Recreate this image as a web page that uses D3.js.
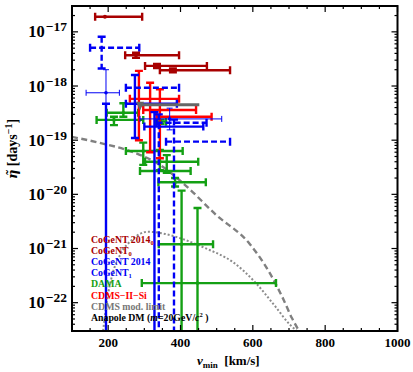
<!DOCTYPE html>
<html><head><meta charset="utf-8">
<script src="https://cdn.jsdelivr.net/npm/d3@7"></script>
<style>html,body{margin:0;padding:0;background:#fff;}svg{display:block;}</style>
</head><body>
<svg id="chart" width="413" height="372"></svg>
<script>
// ---------- data ----------
// each point: v (centre), vLo, vHi in km/s; eta, etaLo, etaHi in days^-1 (null = down to zero)
const cogent2014_0 = [
  {v:191, vLo:164, vHi:294, eta:1.9e-17, etaLo:1.9e-17, etaHi:1.9e-17},
  {v:277, vLo:247, vHi:396, eta:3.7e-18, etaLo:3.3e-18, etaHi:4.1e-18}
];
const cogent_0 = [
  {v:335, vLo:302, vHi:473, eta:2.35e-18, etaLo:2.15e-18, etaHi:2.55e-18},
  {v:379, vLo:343, vHi:537, eta:1.95e-18, etaLo:1.8e-18, etaHi:2.1e-18}
];
const cogent2014 = [
  {v:194, vLo:194, vHi:194, eta:4.7e-19, etaLo:null, etaHi:4.7e-19},
  {v:274, vLo:249, vHi:390, eta:4.7e-19, etaLo:1.1e-19, etaHi:1.6e-18},
  {v:328, vLo:300, vHi:463, eta:1.78e-19, etaLo:null, etaHi:3.3e-19}
];
const cogent2014_thin = [
  {v:194, vLo:139, vHi:231, eta:7.5e-19, etaLo:4.7e-19, etaHi:2.0e-18},
  {v:370, vLo:288, vHi:514, eta:2.47e-19, etaLo:1.55e-19, etaHi:3.9e-19}
];
const cogent_1 = [
  {v:182, vLo:150, vHi:286, eta:5.1e-18, etaLo:2.1e-18, etaHi:8.1e-18},
  {v:277, vLo:249, vHi:396, eta:9.3e-19, etaLo:9.3e-19, etaHi:9.3e-19},
  {v:340, vLo:334, vHi:472, eta:2.1e-19, etaLo:null, etaHi:3.0e-19},
  {v:382, vLo:360, vHi:537, eta:9.4e-20, etaLo:null, etaHi:2.4e-19}
];
const dama = [
  {v:242, vLo:196, vHi:283, eta:3.2e-19, etaLo:2.7e-19, etaHi:4.8e-19},
  {v:216, vLo:168, vHi:297, eta:2.37e-19, etaLo:1.9e-19, etaHi:2.7e-19},
  {v:345, vLo:330, vHi:360, eta:2.2e-19, etaLo:2.0e-19, etaHi:2.4e-19},
  {v:297, vLo:249, vHi:406, eta:6.3e-20, etaLo:3.5e-20, etaHi:9.0e-20},
  {v:343, vLo:302, vHi:449, eta:4.0e-20, etaLo:2.8e-20, etaHi:6.6e-20},
  {v:362, vLo:288, vHi:428, eta:2.7e-20, etaLo:2.5e-20, etaHi:5.3e-20},
  {v:385, vLo:339, vHi:470, eta:1.67e-20, etaLo:1.4e-20, etaHi:2.0e-20},
  {v:403, vLo:340, vHi:490, eta:1.2e-21, etaLo:null, etaHi:1.17e-20},
  {v:447, vLo:293, vHi:664, eta:2.3e-22, etaLo:null, etaHi:5.6e-21}
];
const cdmsSi = [
  {v:285, vLo:260, vHi:396, eta:5.8e-19, etaLo:1.0e-19, etaHi:1.9e-18},
  {v:316, vLo:297, vHi:443, eta:3.6e-19, etaLo:6.0e-20, etaHi:1.15e-18},
  {v:343, vLo:334, vHi:486, eta:2.7e-19, etaLo:4.65e-20, etaHi:8.7e-19}
];
const cdmsModLimit = [ {v:288, vLo:288, vHi:452, eta:4.5e-19} ];

const dashedCurveV   = [100, 177, 260, 343, 412, 498, 592, 647, 686, 708, 728];
const dashedCurveEta = [1.15e-19, 8.9e-20, 6.3e-20, 3.5e-20, 1.5e-20, 4.2e-21, 1.2e-21, 3.5e-22, 1.1e-22, 5.2e-23, 3.0e-23];
const dottedCurveV   = [186, 197, 211, 233, 266, 310, 357, 412, 468, 545, 606, 661, 703, 722];
const dottedCurveEta = [3.0e-23, 1.12e-22, 3.2e-22, 7.6e-22, 1.45e-21, 2.04e-21, 1.86e-21, 1.45e-21, 1.02e-21, 5.6e-22, 2.4e-22, 8.7e-23, 3.9e-23, 3.0e-23];

const xTickValues = [200, 400, 600, 800, 1000];
const yTickExponents = [-17, -18, -19, -20, -21, -22];

// ---------- layout ----------
const L = 72, R = 397.5, T = 6, B = 331;
const svg = d3.select("#chart");
const x = d3.scaleLinear().domain([100, 1000]).range([L, R]);
const y = d3.scaleLog().domain([3e-23, 3e-17]).range([B, T]);
const serif = "'Liberation Serif','Times New Roman',serif";

const COL = {darkred:"#a80000", blue:"#0000f5", red:"#ff0000", green:"#14a014", gray:"#666666"};

svg.append("defs").append("clipPath").attr("id","clip")
  .append("rect").attr("x",L).attr("y",T).attr("width",R-L).attr("height",B-T);
const plot = svg.append("g").attr("clip-path","url(#clip)");

// curves
const line = d3.line().x(d=>x(d[0])).y(d=>y(d[1])).curve(d3.curveMonotoneX);
plot.append("path").datum(dashedCurveV.map((v,i)=>[v,dashedCurveEta[i]]))
  .attr("d",line).attr("fill","none").attr("stroke","#808080").attr("stroke-width",2.4)
  .attr("stroke-dasharray","6,3.5");
plot.append("path").datum(dottedCurveV.map((v,i)=>[v,dottedCurveEta[i]]))
  .attr("d",line).attr("fill","none").attr("stroke","#8c8c8c").attr("stroke-width",2)
  .attr("stroke-dasharray","2,2");

function drawSeries(data, color, opt) {
  opt = Object.assign({w:2.4, cap:4, dash:null, dot:0}, opt||{});
  const g = plot.append("g").attr("stroke", color).attr("stroke-width", opt.w).attr("fill","none");
  data.forEach(p => {
    const cy = y(p.eta), cx = x(p.v);
    const yHi = y(p.etaHi), yLo = p.etaLo === null ? B + 5 : y(p.etaLo);
    if (p.vHi > p.vLo) {
      g.append("line").attr("x1",x(p.vLo)).attr("x2",x(p.vHi)).attr("y1",cy).attr("y2",cy)
        .attr("stroke-dasharray", opt.dash);
      [p.vLo, p.vHi].forEach(vv => g.append("line").attr("x1",x(vv)).attr("x2",x(vv))
        .attr("y1",cy-opt.cap).attr("y2",cy+opt.cap));
    }
    if (yLo - yHi > 0.5) {
      g.append("line").attr("x1",cx).attr("x2",cx).attr("y1",yHi).attr("y2",yLo)
        .attr("stroke-dasharray", opt.dash);
      g.append("line").attr("x1",cx-opt.cap).attr("x2",cx+opt.cap).attr("y1",yHi).attr("y2",yHi);
      if (p.etaLo !== null)
        g.append("line").attr("x1",cx-opt.cap).attr("x2",cx+opt.cap).attr("y1",yLo).attr("y2",yLo);
    }
    if (opt.dot) plot.append("circle").attr("cx",cx).attr("cy",cy).attr("r",opt.dot).attr("fill",color);
  });
}

drawSeries(dama, COL.green, {dot:1.8});
drawSeries(cdmsSi, COL.red, {});
drawSeries(cogent2014_thin, COL.blue, {w:1, cap:3, dot:1.8});
drawSeries(cogent2014, COL.blue, {});
drawSeries(cogent_1, COL.blue, {dash:"6,3"});
drawSeries(cogent2014_0, COL.darkred, {dot:2});
drawSeries(cogent_0, COL.darkred, {dot:2});

cdmsModLimit.forEach(p => {
  plot.append("line").attr("x1",x(p.vLo)).attr("x2",x(p.vHi)).attr("y1",y(p.eta)).attr("y2",y(p.eta))
    .attr("stroke",COL.gray).attr("stroke-width",3);
  const tx = x(p.v), ty = y(p.eta);
  plot.append("path").attr("d",`M${tx-4},${ty-3}L${tx+4},${ty-3}L${tx},${ty+6}Z`).attr("fill",COL.gray);
});

// ---------- axes / frame ----------
const ax = svg.append("g").attr("stroke","#000").attr("stroke-width",1.2);
d3.range(100, 1001, 50).forEach(v => {
  const major = v % 200 === 0, len = major ? 6 : 3;
  ax.append("line").attr("x1",x(v)).attr("x2",x(v)).attr("y1",B).attr("y2",B-len);
  ax.append("line").attr("x1",x(v)).attr("x2",x(v)).attr("y1",T).attr("y2",T+len);
});
for (let e = -23; e <= -17; e++) {
  for (let k = 1; k <= 9; k++) {
    const val = k * Math.pow(10, e);
    if (val < 3e-23 || val > 3e-17) continue;
    const len = k === 1 ? 6 : 3;
    ax.append("line").attr("x1",L).attr("x2",L+len).attr("y1",y(val)).attr("y2",y(val));
    ax.append("line").attr("x1",R).attr("x2",R-len).attr("y1",y(val)).attr("y2",y(val));
  }
}
svg.append("rect").attr("x",L).attr("y",T).attr("width",R-L).attr("height",B-T)
  .attr("fill","none").attr("stroke","#000").attr("stroke-width",2);

svg.append("g").selectAll("text").data(xTickValues).join("text")
  .attr("x",d=>x(d)).attr("y",B+16).attr("text-anchor","middle")
  .attr("font-family",serif).attr("font-weight","bold").attr("font-size",13)
  .text(d=>d);
const yl = svg.append("g").selectAll("text").data(yTickExponents).join("text")
  .attr("x",67).attr("y",d=>y(Math.pow(10,d))+5.5).attr("text-anchor","end")
  .attr("font-family",serif).attr("font-weight","bold").attr("font-size",16.5);
yl.append("tspan").text("10");
yl.append("tspan").attr("dx",1).attr("dy",-6).attr("font-size",13.5).text(d=>"\u2212"+(-d));

// axis titles
const xt = svg.append("text").attr("x",197).attr("y",365)
  .attr("font-family",serif).attr("font-weight","bold").attr("font-size",13);
xt.append("tspan").attr("font-style","italic").text("v");
xt.append("tspan").attr("dy",3).attr("font-size",9).text("min");
xt.append("tspan").attr("dy",-3).text("\u00a0\u00a0[km/s]");

const yt = svg.append("text").attr("transform","translate(17,149) rotate(-90)").attr("text-anchor","middle")
  .attr("font-family",serif).attr("font-weight","bold").attr("font-size",14);
yt.append("tspan").attr("font-style","italic").attr("font-family","'DejaVu Serif',serif").attr("font-size",13).text("\u03b7\u0303");
yt.append("tspan").text(" [days");
yt.append("tspan").attr("dy",-5).attr("font-size",10).text("\u22121");
yt.append("tspan").attr("dy",5).text("]");

// legend
const legendItems = [
  {t:"CoGeNT 2014", sub:"0", c:COL.darkred},
  {t:"CoGeNT", sub:"0", c:COL.darkred},
  {t:"CoGeNT 2014", c:COL.blue},
  {t:"CoGeNT", sub:"1", c:COL.blue},
  {t:"DAMA", c:COL.green},
  {t:"CDMS\u2212II\u2212Si", c:COL.red},
  {t:"CDMS mod. limit", c:"#777777"}
];
const LY0 = 243, LDY = 11.1;
legendItems.forEach((d,i) => {
  const t = svg.append("text").attr("x",91).attr("y",LY0 + i*LDY)
    .attr("font-family",serif).attr("font-size",9.8).attr("font-weight","bold").attr("fill",d.c);
  t.append("tspan").text(d.t);
  if (d.sub) t.append("tspan").attr("dy",2).attr("font-size",6.5).text(d.sub);
});
const an = svg.append("text").attr("x",91).attr("y",LY0 + 7*LDY)
  .attr("font-family",serif).attr("font-size",9.8).attr("font-weight","bold").attr("fill","#000");
an.append("tspan").text("Anapole DM (");
an.append("tspan").attr("font-style","italic").text("m");
an.append("tspan").text("=20GeV/");
an.append("tspan").attr("font-style","italic").text("c");
an.append("tspan").attr("dy",-4).attr("font-size",6.5).text("2");
an.append("tspan").attr("dy",4).text(" )");
</script>
</body></html>
